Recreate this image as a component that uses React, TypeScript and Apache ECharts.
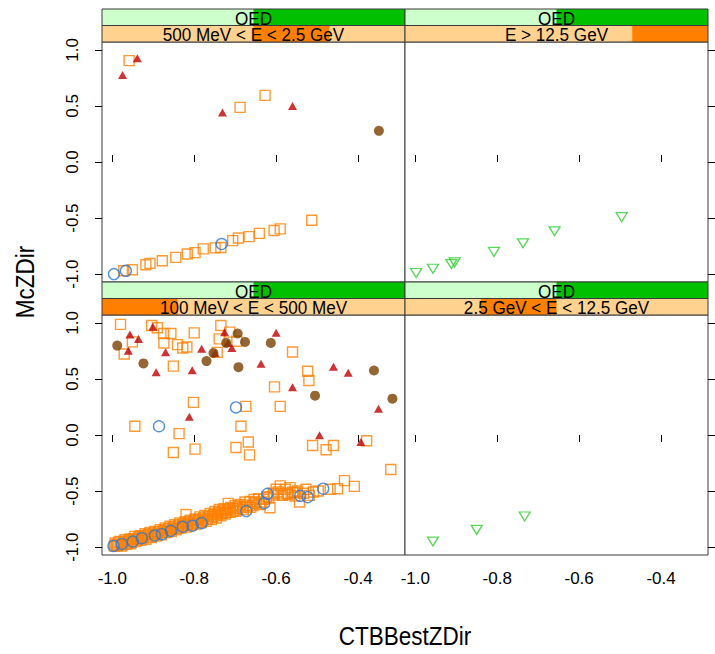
import React, { useEffect, useRef } from "react";
import * as echarts from "echarts";

// ---- axes ----
const xTicks = [-1.0, -0.8, -0.6, -0.4];
const yTicks = [-1.0, -0.5, 0.0, 0.5, 1.0];
const xMin = -1.0252;
const xMax = -0.2853;
const yMin = -1.07;
const yMax = 1.07;
const xTitle = "CTBBestZDir";
const yTitle = "McZDir";

// ---- strips ----
const topStripText = "QED";
const panelLabels = [
  "500 MeV < E < 2.5 GeV",
  "E > 12.5 GeV",
  "100 MeV < E < 500 MeV",
  "2.5 GeV < E < 12.5 GeV",
];
// level index of energy factor (alphabetical levels, 4 levels); QED is level 2 of 2
const energyLevel = [3, 4, 1, 2];
const energyLevels = 4;
const qedLevel = 2;
const qedLevels = 2;

// ---- data: panel top-left (500 MeV < E < 2.5 GeV) ----
const tlSquares = [
  [-0.959, 0.904], [-0.688, 0.487], [-0.627, 0.594], [-0.513, -0.519],
  [-0.972, -0.97], [-0.951, -0.961], [-0.918, -0.916], [-0.908, -0.904],
  [-0.878, -0.88], [-0.845, -0.85], [-0.817, -0.82], [-0.798, -0.808],
  [-0.778, -0.775], [-0.749, -0.766], [-0.735, -0.762], [-0.706, -0.701],
  [-0.692, -0.677], [-0.666, -0.665], [-0.641, -0.636], [-0.605, -0.611],
  [-0.59, -0.596],
];
const tlCircles = [[-0.996, -0.999], [-0.967, -0.97], [-0.733, -0.731]];
const tlRedTri = [[-0.975, 0.776], [-0.939, 0.926], [-0.731, 0.442], [-0.56, 0.499]];
const tlBrown = [[-0.349, 0.278]];

// ---- data: panel top-right (E > 12.5 GeV) ----
const trGreen = [
  [-0.998, -0.99], [-0.957, -0.952], [-0.912, -0.91], [-0.904, -0.895],
  [-0.808, -0.802], [-0.737, -0.725], [-0.66, -0.618], [-0.496, -0.492],
];

// ---- data: panel bottom-left (100 MeV < E < 500 MeV) ----
const blSquaresScatter = [
  [-0.98, 0.986], [-0.904, 0.977], [-0.89, 0.956], [-0.951, 0.83], [-0.875, 0.905],
  [-0.857, 0.905], [-0.874, 0.821], [-0.841, 0.806], [-0.818, 0.785], [-0.828, 0.776],
  [-0.971, 0.722], [-0.8, 0.911], [-0.735, 0.977], [-0.713, 0.917], [-0.739, 0.857],
  [-0.696, 0.836], [-0.744, 0.737], [-0.56, 0.74], [-0.851, 0.614], [-0.523, 0.569],
  [-0.52, 0.486], [-0.604, 0.429], [-0.802, 0.291], [-0.674, 0.255], [-0.59, 0.255],
  [-0.945, 0.078], [-0.686, 0.078], [-0.837, 0.012], [-0.851, -0.156], [-0.798, -0.126],
  [-0.698, -0.111], [-0.668, -0.063], [-0.665, -0.177], [-0.511, -0.093], [-0.478, -0.132],
  [-0.46, -0.093], [-0.379, -0.051], [-0.32, -0.308], [-0.433, -0.407], [-0.45, -0.479],
  [-0.409, -0.458],
];
const blSquaresBand = [
  [-0.995, -0.99], [-0.993, -0.964], [-0.988, -0.988], [-0.981, -0.949], [-0.975, -0.979],
  [-0.969, -0.934], [-0.963, -0.964], [-0.957, -0.928], [-0.953, -0.955], [-0.945, -0.904],
  [-0.939, -0.934], [-0.932, -0.898], [-0.926, -0.922], [-0.92, -0.88], [-0.914, -0.91],
  [-0.908, -0.868], [-0.901, -0.892], [-0.896, -0.859], [-0.89, -0.88], [-0.883, -0.844],
  [-0.877, -0.868], [-0.871, -0.829], [-0.865, -0.856], [-0.859, -0.814], [-0.853, -0.838],
  [-0.847, -0.799], [-0.841, -0.829], [-0.835, -0.784], [-0.828, -0.808], [-0.822, -0.772],
  [-0.817, -0.802], [-0.82, -0.709], [-0.81, -0.76], [-0.804, -0.79], [-0.798, -0.748],
  [-0.792, -0.778], [-0.786, -0.73], [-0.779, -0.76], [-0.774, -0.718], [-0.768, -0.748],
  [-0.761, -0.7], [-0.755, -0.73], [-0.749, -0.682], [-0.743, -0.712], [-0.739, -0.664],
  [-0.733, -0.7], [-0.727, -0.658], [-0.721, -0.688], [-0.717, -0.61], [-0.711, -0.646],
  [-0.704, -0.676], [-0.7, -0.628], [-0.695, -0.658], [-0.688, -0.619], [-0.682, -0.649],
  [-0.676, -0.598], [-0.67, -0.634], [-0.664, -0.592], [-0.657, -0.628], [-0.654, -0.574],
  [-0.649, -0.61], [-0.643, -0.568], [-0.635, -0.598], [-0.631, -0.574], [-0.623, -0.55],
  [-0.615, -0.649], [-0.607, -0.52], [-0.6, -0.484], [-0.595, -0.508], [-0.59, -0.454],
  [-0.584, -0.538], [-0.578, -0.484], [-0.573, -0.52], [-0.566, -0.469], [-0.56, -0.508],
  [-0.554, -0.544], [-0.548, -0.499], [-0.543, -0.598], [-0.533, -0.52], [-0.527, -0.484],
  [-0.519, -0.538], [-0.509, -0.508], [-0.497, -0.499], [-0.468, -0.484],
];
const blSquaresBand2 = [
  [-0.99, -0.975], [-0.985, -0.955], [-0.978, -0.99], [-0.972, -0.95], [-0.966, -0.975],
  [-0.96, -0.945], [-0.955, -0.97], [-0.948, -0.925], [-0.942, -0.95], [-0.936, -0.915],
  [-0.93, -0.94], [-0.924, -0.9], [-0.918, -0.93], [-0.912, -0.89], [-0.905, -0.915],
  [-0.898, -0.875], [-0.892, -0.9], [-0.886, -0.86], [-0.88, -0.89], [-0.874, -0.85],
  [-0.868, -0.87], [-0.862, -0.835], [-0.856, -0.86], [-0.85, -0.82], [-0.844, -0.845],
  [-0.838, -0.81], [-0.832, -0.83], [-0.826, -0.79], [-0.82, -0.82], [-0.814, -0.78],
  [-0.808, -0.805], [-0.8, -0.765], [-0.795, -0.795], [-0.789, -0.755], [-0.783, -0.78],
  [-0.777, -0.74], [-0.771, -0.77], [-0.765, -0.725], [-0.758, -0.755], [-0.752, -0.71],
  [-0.746, -0.74], [-0.74, -0.69], [-0.735, -0.72], [-0.73, -0.675], [-0.724, -0.705],
  [-0.718, -0.665], [-0.712, -0.69], [-0.706, -0.655], [-0.698, -0.68], [-0.69, -0.64],
  [-0.68, -0.665], [-0.672, -0.625], [-0.662, -0.645], [-0.652, -0.6], [-0.64, -0.62],
  [-0.618, -0.56], [-0.605, -0.535], [-0.588, -0.525], [-0.57, -0.53], [-0.555, -0.515],
];
const blCircles = [
  [-0.886, 0.078], [-0.698, 0.246], [-0.997, -0.989], [-0.977, -0.971], [-0.95, -0.95],
  [-0.928, -0.92], [-0.896, -0.896], [-0.879, -0.884], [-0.857, -0.854], [-0.828, -0.818],
  [-0.804, -0.809], [-0.782, -0.785], [-0.673, -0.678], [-0.629, -0.608], [-0.621, -0.524],
  [-0.541, -0.542], [-0.523, -0.554], [-0.485, -0.479],
];
const blRedTri = [
  [-0.957, 0.896], [-0.936, 0.857], [-0.961, 0.752], [-0.901, 0.965], [-0.87, 0.737],
  [-0.893, 0.56], [-0.805, 0.578], [-0.782, 0.77], [-0.726, 0.917], [-0.718, 0.821],
  [-0.708, 0.776], [-0.749, 0.731], [-0.637, 0.635], [-0.6, 0.911], [-0.56, 0.426],
  [-0.812, 0.162], [-0.46, 0.608], [-0.424, 0.554], [-0.35, 0.234], [-0.494, -0.003],
  [-0.393, -0.063],
];
const blBrown = [
  [-0.988, 0.797], [-0.924, 0.638], [-0.77, 0.659], [-0.753, 0.731], [-0.722, 0.821],
  [-0.694, 0.905], [-0.676, 0.83], [-0.692, 0.605], [-0.613, 0.821], [-0.505, 0.351],
  [-0.361, 0.575], [-0.316, 0.324],
];

// ---- data: panel bottom-right (2.5 GeV < E < 12.5 GeV) ----
const brGreen = [[-0.957, -0.95], [-0.85, -0.846], [-0.733, -0.727]];

// ---- styling ----
const ORANGE = "#FF8000";
const BLUE = "#2A78D6";
const GREEN = "#2ECC2E";
const RED = "#C00000";
const BROWN = "#7A3E00";
const FONT = '"Liberation Sans", Arial, sans-serif';

const panels = [
  { left: 102, top: 42, w: 303, h: 240 },
  { left: 405, top: 42, w: 303, h: 240 },
  { left: 102, top: 315, w: 303, h: 240 },
  { left: 405, top: 315, w: 303, h: 240 },
];
const STRIP_H = 16.5;

function buildOption() {
  const grid = panels.map((p) => ({
    left: p.left,
    top: p.top,
    width: p.w,
    height: p.h,
    show: true,
    borderColor: "#3a3a3a",
    borderWidth: 1,
    backgroundColor: "#fff",
    containLabel: false,
  }));

  const fmt = (v: number) => (Math.abs(v) < 1e-9 ? "0.0" : v.toFixed(1));

  const xAxis = panels.map((_, i) => {
    const isTop = i < 2;
    return {
      type: "value",
      gridIndex: i,
      min: xMin,
      max: xMax,
      position: isTop ? "top" : "bottom",
      offset: isTop ? STRIP_H * 2 : 0,
      axisLine: { show: false },
      splitLine: { show: false },
      axisTick: {
        show: true,
        inside: false,
        length: 7,
        customValues: xTicks,
        lineStyle: { color: "#000", width: 1 },
      },
      axisLabel: {
        show: !isTop,
        customValues: xTicks,
        formatter: fmt,
        margin: 15,
        color: "#000",
        fontSize: 17,
        fontFamily: FONT,
      },
    };
  });

  const yAxis = panels.map((_, i) => {
    const isLeft = i % 2 === 0;
    return {
      type: "value",
      gridIndex: i,
      min: yMin,
      max: yMax,
      position: isLeft ? "left" : "right",
      axisLine: { show: false },
      splitLine: { show: false },
      axisTick: {
        show: true,
        inside: false,
        length: 7,
        customValues: yTicks,
        lineStyle: { color: "#000", width: 1 },
      },
      axisLabel: {
        show: isLeft,
        customValues: yTicks,
        formatter: fmt,
        rotate: 90,
        margin: 21,
        color: "#000",
        fontSize: 17,
        fontFamily: FONT,
      },
    };
  });

  const openStyle = (c: string, w = 1.4) => ({
    color: "rgba(0,0,0,0)",
    borderColor: c,
    borderWidth: w,
  });

  const sq = (data: number[][], i: number) => ({
    type: "scatter",
    xAxisIndex: i,
    yAxisIndex: i,
    data,
    symbol: "rect",
    symbolSize: 10,
    itemStyle: openStyle(ORANGE),
    silent: true,
  });
  const circ = (data: number[][], i: number) => ({
    type: "scatter",
    xAxisIndex: i,
    yAxisIndex: i,
    data,
    symbol: "circle",
    symbolSize: 11,
    itemStyle: openStyle(BLUE),
    silent: true,
  });
  const redTri = (data: number[][], i: number) => ({
    type: "scatter",
    xAxisIndex: i,
    yAxisIndex: i,
    data,
    symbol: "triangle",
    symbolSize: [9, 8],
    itemStyle: { color: RED },
    silent: true,
  });
  const brown = (data: number[][], i: number) => ({
    type: "scatter",
    xAxisIndex: i,
    yAxisIndex: i,
    data,
    symbol: "circle",
    symbolSize: 10,
    itemStyle: { color: BROWN },
    silent: true,
  });
  const green = (data: number[][], i: number) => ({
    type: "scatter",
    xAxisIndex: i,
    yAxisIndex: i,
    data,
    symbol: "triangle",
    symbolRotate: 180,
    symbolSize: [11, 9],
    itemStyle: openStyle(GREEN, 1.3),
    silent: true,
  });

  const series = [
    sq(tlSquares, 0),
    circ(tlCircles, 0),
    redTri(tlRedTri, 0),
    brown(tlBrown, 0),
    green(trGreen, 1),
    sq(blSquaresBand, 2),
    sq(blSquaresBand2, 2),
    sq(blSquaresScatter, 2),
    circ(blCircles, 2),
    redTri(blRedTri, 2),
    brown(blBrown, 2),
    green(brGreen, 3),
  ];

  const graphic: any[] = [];
  const strip = (
    x: number, y: number, w: number, h: number,
    bg: string, fg: string, lev: number, nLev: number, text: string
  ) => {
    graphic.push({ type: "rect", shape: { x, y, width: w, height: h }, style: { fill: bg }, silent: true });
    graphic.push({
      type: "rect",
      shape: { x: x + ((lev - 1) / nLev) * w, y, width: w / nLev, height: h },
      style: { fill: fg },
      silent: true,
    });
    graphic.push({
      type: "rect",
      shape: { x, y, width: w, height: h },
      style: { fill: "none", stroke: "#3a3a3a", lineWidth: 1 },
      silent: true,
    });
    graphic.push({
      type: "text",
      x: x + w / 2,
      y: y + h / 2 + 1,
      scaleX: 0.9,
      style: {
        text,
        fill: "#000",
        font: `19px ${FONT}`,
        textAlign: "center",
        textVerticalAlign: "middle",
        align: "center",
        verticalAlign: "middle",
      },
      silent: true,
    });
  };

  panels.forEach((p, i) => {
    const y0 = p.top - 2 * STRIP_H;
    strip(p.left, y0, p.w, STRIP_H, "#CCFFCC", "#00C000", qedLevel, qedLevels, topStripText);
    strip(p.left, y0 + STRIP_H, p.w, STRIP_H, "#FFD28F", "#FF8000", energyLevel[i], energyLevels, panelLabels[i]);
  });

  graphic.push({
    type: "text",
    x: 405,
    y: 636,
    scaleX: 0.9,
    style: {
      text: xTitle,
      fill: "#000",
      font: `25px ${FONT}`,
      textAlign: "center",
      textVerticalAlign: "middle",
      align: "center",
      verticalAlign: "middle",
    },
    silent: true,
  });
  graphic.push({
    type: "text",
    x: 25,
    y: 282,
    rotation: Math.PI / 2,
    scaleX: 0.9,
    style: {
      text: yTitle,
      fill: "#000",
      font: `25px ${FONT}`,
      textAlign: "center",
      textVerticalAlign: "middle",
      align: "center",
      verticalAlign: "middle",
    },
    silent: true,
  });

  return {
    animation: false,
    backgroundColor: "#fff",
    grid,
    xAxis,
    yAxis,
    series,
    graphic,
  };
}

export default function App() {
  const ref = useRef<HTMLDivElement>(null);
  useEffect(() => {
    if (!ref.current) return;
    const chart = echarts.init(ref.current, null, { renderer: "svg" });
    chart.setOption(buildOption() as any);
    return () => chart.dispose();
  }, []);
  return (
    <div
      ref={ref}
      style={{ position: "fixed", left: 0, top: 0, width: 715, height: 654, background: "#fff" }}
    />
  );
}
